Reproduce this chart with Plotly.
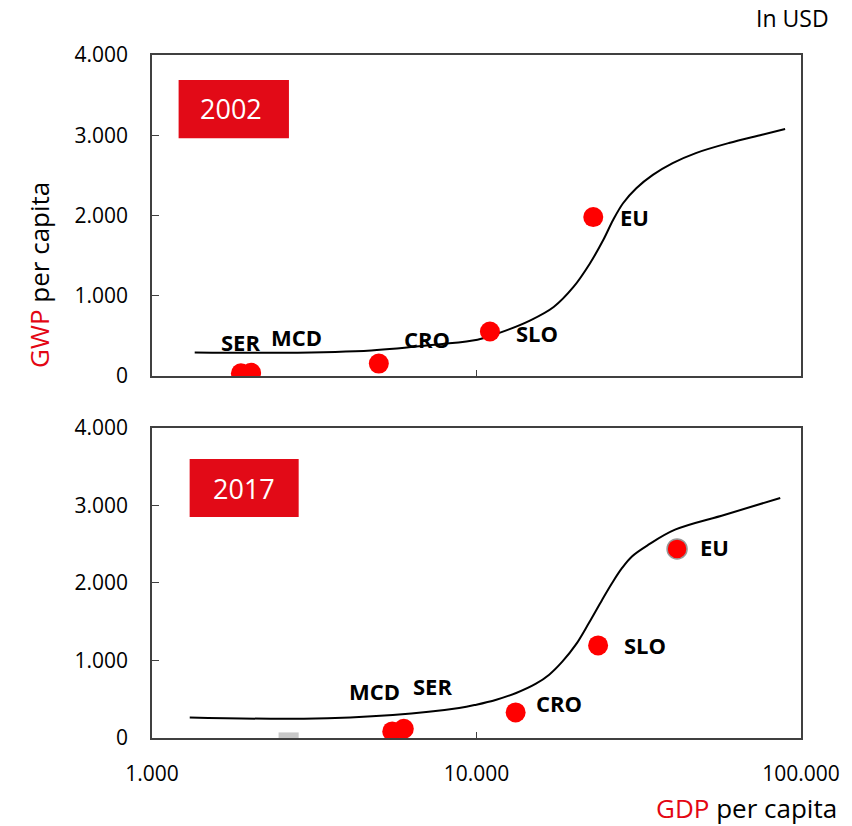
import numpy as np
import plotly.graph_objects as go

# country points
countries_2002 = ["SER", "MCD", "CRO", "SLO", "EU"]
gdp_2002 = [1880, 2020, 5000, 11000, 22900]
gwp_2002 = [35, 40, 155, 555, 1980]

countries_2017 = ["MCD", "SER", "CRO", "SLO", "EU"]
gdp_2017 = [5500, 5970, 13200, 23700, 41500]
gwp_2017 = [85, 120, 330, 1195, 2440]

# fitted curves (hand-read points)
gdp_curve_2002 = [1354, 2535, 4740, 7600, 10070, 11590, 14660, 17290, 19900, 22360, 24580,
                  26360, 28290, 31080, 34950, 40230, 47410, 59950, 75830, 89330]
gwp_curve_2002 = [294, 290, 319, 394, 453, 528, 694, 860, 1110, 1403, 1694,
                  1944, 2153, 2340, 2506, 2653, 2778, 2903, 3006, 3078]

gdp_curve_2017 = [1307, 2937, 5520, 8840, 9990, 11510, 13250, 15250, 16750, 18410, 20230, 22200,
                  24400, 26180, 28100, 30130, 33880, 40910, 58300, 86300]
gwp_curve_2017 = [266, 249, 297, 387, 430, 494, 581, 701, 817, 988, 1204, 1484,
                  1785, 2000, 2194, 2343, 2494, 2688, 2881, 3097]

y_ticks = [0, 1000, 2000, 3000, 4000]
y_tick_labels = ["0", "1.000", "2.000", "3.000", "4.000"]
x_ticks = [1000, 10000, 100000]
x_tick_labels = ["1.000", "10.000", "100.000"]

# label offsets in px (dx, dy) from each dot
offsets_2002 = [(0, 31), (45, 36), (48, 25), (47, -2), (41, 0)]
offsets_2017 = [(-18, 40), (29, 43), (43, 9), (47, 0), (37, 2)]

RED = "#e30613"
DOT = "#ff0000"
AX = "#404040"
FONT = "Open Sans"

fig = go.Figure()

fig.add_trace(go.Scatter(x=gdp_curve_2002, y=gwp_curve_2002, mode="lines",
                         line=dict(color="black", width=2, shape="spline", smoothing=1.0),
                         xaxis="x", yaxis="y", showlegend=False))
fig.add_trace(go.Scatter(x=gdp_2002, y=gwp_2002, mode="markers", marker=dict(color=DOT, size=20, line=dict(width=0)),
                         xaxis="x", yaxis="y", showlegend=False))
fig.add_trace(go.Scatter(x=gdp_curve_2017, y=gwp_curve_2017, mode="lines",
                         line=dict(color="black", width=2, shape="spline", smoothing=1.0),
                         xaxis="x2", yaxis="y2", showlegend=False))
fig.add_trace(go.Scatter(x=gdp_2017, y=gwp_2017, mode="markers",
                         marker=dict(color=DOT, size=20, line=dict(width=[0, 0, 0, 0, 1.5], color=["#ff0000"] * 4 + ["#999999"])),
                         xaxis="x2", yaxis="y2", showlegend=False))

annotations = []
for name, gx, gy, (dx, dy) in zip(countries_2002, gdp_2002, gwp_2002, offsets_2002):
    annotations.append(dict(x=np.log10(gx), y=gy, xref="x", yref="y", text="<b>%s</b>" % name, showarrow=False,
                            xanchor="center", yanchor="middle", xshift=dx, yshift=dy,
                            font=dict(family=FONT, size=22, color="black")))
for name, gx, gy, (dx, dy) in zip(countries_2017, gdp_2017, gwp_2017, offsets_2017):
    annotations.append(dict(x=np.log10(gx), y=gy, xref="x2", yref="y2", text="<b>%s</b>" % name, showarrow=False,
                            xanchor="center", yanchor="middle", xshift=dx, yshift=dy,
                            font=dict(family=FONT, size=22, color="black")))

# year boxes
shapes = [
    dict(type="rect", xref="x domain", yref="y domain", x0=0.041, x1=0.211, y0=0.741, y1=0.922,
         fillcolor="#e20a17", line=dict(width=0)),
    dict(type="rect", xref="x2 domain", yref="y2 domain", x0=0.058, x1=0.226, y0=0.713, y1=0.900,
         fillcolor="#e20a17", line=dict(width=0)),
    dict(type="rect", xref="x2 domain", yref="y2 domain", x0=0.195, x1=0.226, y0=0.0, y1=0.018,
         fillcolor="#c8c8c8", line=dict(width=0)),
]
annotations += [
    dict(x=0.121, y=0.832, xref="x domain", yref="y domain", text="2002", showarrow=False,
         xanchor="center", yanchor="middle", font=dict(family=FONT, size=27, color="white")),
    dict(x=0.142, y=0.806, xref="x2 domain", yref="y2 domain", text="2017", showarrow=False,
         xanchor="center", yanchor="middle", font=dict(family=FONT, size=27, color="white")),
    dict(x=-0.174, y=0.678, xref="paper", yref="paper", textangle=-90, showarrow=False,
         xanchor="center", yanchor="middle",
         text="<span style='color:%s'>GWP</span> per capita" % RED, font=dict(family=FONT, size=26, color="black")),
    dict(x=1.058, y=-0.1025, xref="paper", yref="paper", xanchor="right", yanchor="middle", showarrow=False,
         text="<span style='color:%s'>GDP</span> per capita" % RED, font=dict(family=FONT, size=26, color="black")),
    dict(x=1.046, y=1.054, xref="paper", yref="paper", xanchor="right", yanchor="middle", showarrow=False,
         text="In USD", font=dict(family=FONT, size=23, color="black")),
]

xaxis_common = dict(type="log", range=[3, 5], tickvals=x_ticks, ticktext=x_tick_labels, ticks="inside", ticklen=6,
                    tickcolor=AX, showline=True, linecolor=AX, linewidth=1.5, mirror=True, showgrid=False,
                    zeroline=False, tickfont=dict(family=FONT, size=21, color="black"), ticklabelstandoff=16)
yaxis_common = dict(range=[0, 4000], tickvals=y_ticks, ticktext=y_tick_labels, ticks="inside", ticklen=7,
                    tickcolor=AX, showline=True, linecolor=AX, linewidth=1.5, mirror=True, showgrid=False,
                    zeroline=False, tickfont=dict(family=FONT, size=21, color="black"), ticklabelstandoff=18)

fig.update_layout(
    width=852, height=826,
    margin=dict(l=152, r=46, t=55, b=88),
    plot_bgcolor="white", paper_bgcolor="white",
    xaxis=dict(xaxis_common, anchor="y", showticklabels=False),
    yaxis=dict(yaxis_common, anchor="x", domain=[0.530, 1.0]),
    xaxis2=dict(xaxis_common, anchor="y2"),
    yaxis2=dict(yaxis_common, anchor="x2", domain=[0.0, 0.4539]),
    shapes=shapes,
    annotations=annotations,
    showlegend=False,
)

fig.write_html("out.html", config={"displayModeBar": False},
               post_script="document.body.style.margin='0';")
